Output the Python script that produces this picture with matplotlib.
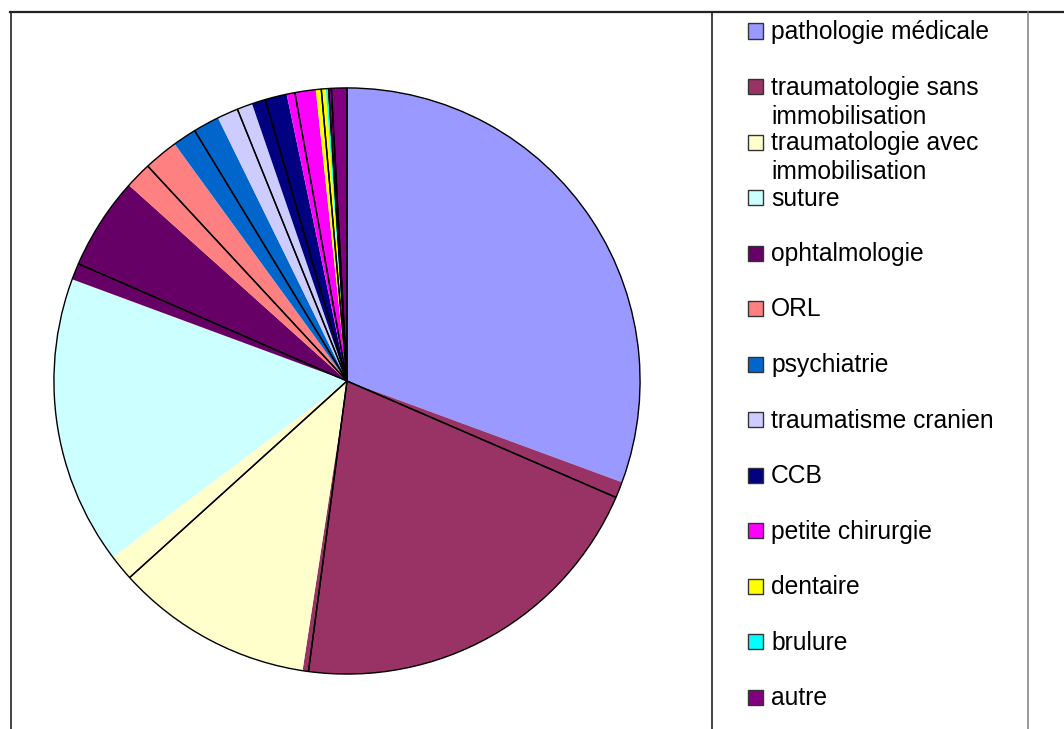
"""Pie chart of emergency visits by category, Excel-style frame and legend."""
import matplotlib.pyplot as plt
from matplotlib.lines import Line2D
from matplotlib.patches import Rectangle

categories = [
    "pathologie médicale",
    "traumatologie sans\nimmobilisation",
    "traumatologie avec\nimmobilisation",
    "suture",
    "ophtalmologie",
    "ORL",
    "psychiatrie",
    "traumatisme cranien",
    "CCB",
    "petite chirurgie",
    "dentaire",
    "brulure",
    "autre",
]
# share of each category (filled wedges), percent
fill_share = [30.6, 21.8, 12.3, 15.9, 6.0, 3.35, 2.75, 2.0, 1.95, 1.6, 0.55, 0.15, 1.0]
# share drawn by the wedge outlines (offset in the original rendering), percent
outline_share = [31.5, 20.6, 11.2, 18.25, 6.55, 3.2, 2.6, 1.6, 1.65, 1.45, 0.4, 0.15, 0.85]
colors = ["#9999FF", "#993366", "#FFFFCC", "#CCFFFF", "#660066", "#FF8080",
          "#0066CC", "#CCCCFF", "#000080", "#FF00FF", "#FFFF00", "#00FFFF", "#800080"]

W, H = 1064, 729
fig = plt.figure(figsize=(W / 100, H / 100), dpi=100)

# pie axes: center (347, 381), radius 296 px
cx, cy, r = 347, 381, 296
ax = fig.add_axes([(cx - r) / W, (H - cy - r) / H, 2 * r / W, 2 * r / H])
ax.pie(fill_share, colors=colors, startangle=90, counterclock=False, radius=1,
       wedgeprops=dict(linewidth=0, edgecolor="none"))
ax.pie(outline_share, colors=colors, startangle=90, counterclock=False, radius=1,
       wedgeprops=dict(fill=False, edgecolor="black", linewidth=1.0))
ax.set_xlim(-1.01, 1.01)
ax.set_ylim(-1.01, 1.01)
ax.set_aspect("equal")
ax.axis("off")

# frame lines (pixel coords -> figure fraction)
def hline(y, x0, x1, color="#222222", lw=1.6):
    fig.add_artist(Line2D([x0 / W, x1 / W], [1 - y / H, 1 - y / H], color=color, lw=lw))

def vline(x, y0, y1, color="#222222", lw=1.2):
    fig.add_artist(Line2D([x / W, x / W], [1 - y0 / H, 1 - y1 / H], color=color, lw=lw))

hline(12, 10, W)
vline(10.5, 12, H)
vline(711.5, 12, H)
vline(1027.5, 12, H, color="#888888")

# legend drawn by hand to keep the Excel spacing
font = ["Liberation Sans", "DejaVu Sans"]
for i, (label, col) in enumerate(zip(categories, colors)):
    yc = 32 + 55.5 * i
    fig.add_artist(Rectangle((748 / W, 1 - (yc + 6.5) / H), 15 / W, 15 / H,
                             facecolor=col, edgecolor="#333333", lw=1.0))
    for j, line in enumerate(label.split("\n")):
        fig.text(771 / W, 1 - (yc + 29 * j) / H, line, fontsize=17.7,
                 family=font, va="center", ha="left", color="black")

fig.savefig("out.png", dpi=100)
